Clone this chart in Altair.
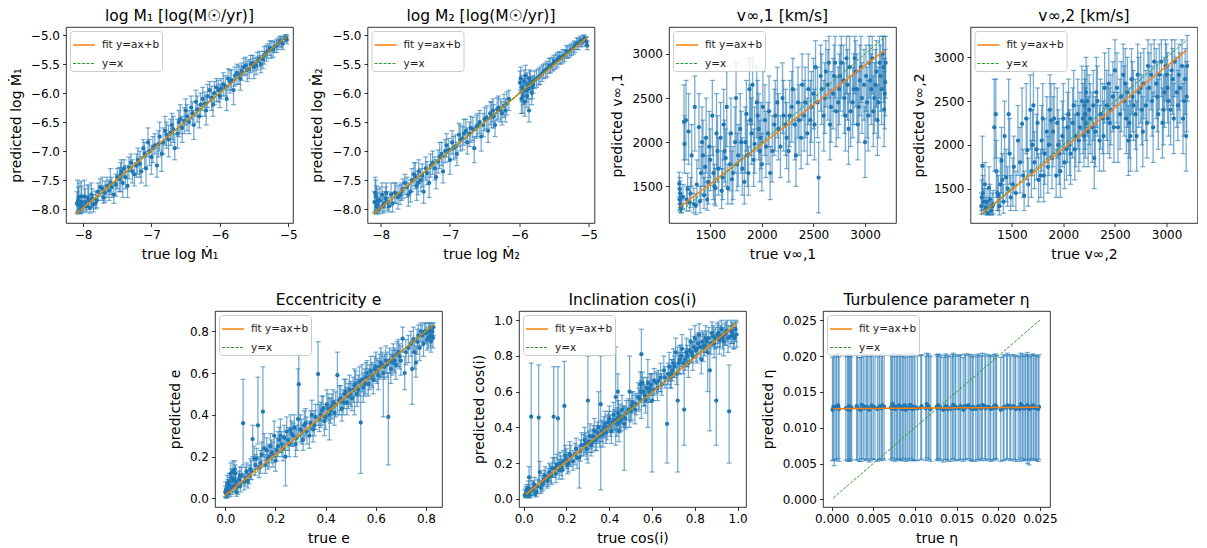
import altair as alt
import pandas as pd

BLUE = "#1f77b4"
ORANGE = "#ff7f0e"
GREEN = "#2ca02c"
FONT = "DejaVu Sans"
FIT = "fit y=ax+b"
IDENT = "y=x"

# ---------------- data: (true, predicted, lower, upper) ----------------
m1_points = [
    (-8.08, -7.92, -8.05, -7.50), (-8.06, -7.80, -8.02, -7.55), (-8.04, -8.00, -8.08, -7.85),
    (-8.02, -7.88, -8.05, -7.60), (-7.98, -7.78, -7.95, -7.50), (-7.95, -7.95, -8.05, -7.80),
    (-7.92, -7.85, -8.00, -7.60), (-7.88, -7.75, -7.95, -7.55), (-7.85, -7.92, -8.05, -7.75),
    (-7.82, -7.90, -8.00, -7.70), (-7.78, -7.70, -7.85, -7.55), (-7.72, -7.65, -7.85, -7.45),
    (-7.70, -7.80, -7.90, -7.60), (-7.65, -7.60, -7.80, -7.45), (-7.60, -7.55, -7.75, -7.30),
    (-7.55, -7.75, -7.90, -7.55), (-7.50, -7.45, -7.65, -7.30), (-7.45, -7.40, -7.70, -7.20),
    (-7.42, -7.55, -7.80, -7.30), (-7.40, -7.30, -7.45, -7.15), (-7.35, -7.60, -7.80, -7.35),
    (-7.30, -7.20, -7.35, -7.05), (-7.25, -7.40, -7.60, -7.20), (-7.20, -7.15, -7.40, -6.95),
    (-7.15, -7.35, -7.55, -7.10), (-7.12, -6.95, -7.10, -6.80), (-7.08, -7.30, -7.60, -7.00),
    (-7.05, -6.85, -7.10, -6.60), (-7.00, -7.10, -7.40, -6.90), (-6.95, -6.90, -7.05, -6.70),
    (-6.92, -7.25, -7.45, -6.95), (-6.88, -6.75, -7.00, -6.50), (-6.85, -7.05, -7.35, -6.85),
    (-6.80, -6.65, -6.90, -6.40), (-6.75, -6.80, -7.10, -6.55), (-6.70, -6.55, -6.80, -6.35),
    (-6.66, -6.95, -7.15, -6.70), (-6.62, -6.70, -6.95, -6.45), (-6.58, -6.45, -6.70, -6.20),
    (-6.55, -6.60, -6.85, -6.40), (-6.50, -6.30, -6.55, -6.10), (-6.45, -6.50, -6.70, -6.30),
    (-6.42, -6.25, -6.45, -6.05), (-6.38, -6.55, -6.80, -6.30), (-6.35, -6.15, -6.40, -5.95),
    (-6.30, -6.40, -6.60, -6.20), (-6.25, -6.10, -6.30, -5.90), (-6.20, -6.30, -6.55, -6.05),
    (-6.15, -5.95, -6.15, -5.80), (-6.10, -6.20, -6.40, -6.00), (-6.05, -5.90, -6.15, -5.75),
    (-6.00, -6.05, -6.25, -5.85), (-5.95, -5.85, -6.05, -5.65), (-5.90, -6.10, -6.30, -5.90),
    (-5.85, -5.80, -6.00, -5.60), (-5.80, -5.95, -6.20, -5.75), (-5.75, -5.65, -5.85, -5.50),
    (-5.70, -5.75, -5.95, -5.55), (-5.65, -5.55, -5.70, -5.40), (-5.60, -5.60, -5.80, -5.45),
    (-5.55, -5.50, -5.65, -5.35), (-5.50, -5.55, -5.75, -5.40), (-5.45, -5.45, -5.60, -5.30),
    (-5.40, -5.50, -5.65, -5.35), (-5.35, -5.35, -5.50, -5.20), (-5.30, -5.28, -5.40, -5.15),
    (-5.25, -5.25, -5.40, -5.10), (-5.20, -5.20, -5.30, -5.10), (-5.15, -5.15, -5.25, -5.05),
    (-5.10, -5.12, -5.22, -5.02), (-5.05, -5.05, -5.12, -5.00), (-5.02, -5.08, -5.15, -5.02),
]
m1_more = [
    (-8.09, -7.90, -8.07, -7.70), (-8.07, -7.85, -8.03, -7.62), (-8.05, -7.93, -8.08, -7.78),
    (-8.03, -7.78, -7.98, -7.52), (-8.00, -7.95, -8.06, -7.80), (-7.97, -7.88, -8.02, -7.65),
    (-7.93, -7.80, -7.97, -7.58), (-7.90, -7.98, -8.07, -7.85), (-7.87, -7.82, -7.98, -7.65),
    (-7.80, -7.85, -7.98, -7.68), (-7.75, -7.62, -7.78, -7.48), (-7.68, -7.72, -7.88, -7.52),
    (-7.62, -7.68, -7.85, -7.50), (-7.58, -7.62, -7.80, -7.45), (-7.52, -7.58, -7.78, -7.40),
    (-7.47, -7.48, -7.70, -7.28), (-7.44, -7.35, -7.55, -7.15), (-7.38, -7.45, -7.65, -7.25),
    (-7.33, -7.28, -7.48, -7.10), (-7.28, -7.35, -7.55, -7.15), (-7.22, -7.25, -7.45, -7.05),
    (-7.17, -7.22, -7.45, -7.00), (-7.10, -7.05, -7.30, -6.85), (-7.03, -7.00, -7.25, -6.80),
    (-6.98, -6.95, -7.20, -6.75), (-6.90, -6.88, -7.10, -6.65), (-6.83, -6.85, -7.05, -6.60),
    (-6.78, -6.72, -6.95, -6.50), (-6.72, -6.68, -6.90, -6.45), (-6.68, -6.62, -6.85, -6.40),
    (-6.60, -6.50, -6.75, -6.30), (-6.52, -6.48, -6.70, -6.25), (-6.48, -6.40, -6.65, -6.20),
    (-6.40, -6.35, -6.55, -6.15), (-6.33, -6.28, -6.50, -6.05), (-6.28, -6.20, -6.40, -6.00),
    (-6.22, -6.18, -6.40, -5.98), (-6.18, -6.05, -6.25, -5.85), (-6.12, -6.08, -6.30, -5.88),
    (-6.08, -6.00, -6.20, -5.80), (-6.02, -5.95, -6.15, -5.78), (-5.98, -5.92, -6.10, -5.75),
    (-5.92, -5.88, -6.05, -5.70), (-5.88, -5.75, -5.95, -5.58), (-5.83, -5.78, -5.95, -5.60),
    (-5.78, -5.70, -5.88, -5.55), (-5.72, -5.68, -5.85, -5.52), (-5.68, -5.62, -5.78, -5.48),
    (-5.62, -5.52, -5.68, -5.38), (-5.57, -5.58, -5.75, -5.42), (-5.52, -5.48, -5.62, -5.35),
    (-5.47, -5.52, -5.68, -5.38), (-5.42, -5.40, -5.55, -5.28), (-5.37, -5.42, -5.58, -5.28),
    (-5.32, -5.30, -5.45, -5.18), (-5.27, -5.22, -5.35, -5.10), (-5.22, -5.25, -5.38, -5.12),
    (-5.17, -5.18, -5.30, -5.08), (-5.12, -5.10, -5.20, -5.02), (-5.08, -5.15, -5.25, -5.05),
    (-5.03, -5.04, -5.10, -4.99),
]
m1_fit = ([-8.10, -5.02], [-8.08, -5.02])
m1_ident = ([-8.10, -5.02], [-8.10, -5.02])

m2_points = [
    (-8.08, -7.72, -8.05, -7.45), (-8.06, -7.95, -8.08, -7.60), (-8.04, -7.85, -8.05, -7.65),
    (-8.02, -8.00, -8.08, -7.80), (-7.98, -7.75, -7.95, -7.55), (-7.95, -7.90, -8.05, -7.70),
    (-7.92, -7.72, -7.90, -7.55), (-7.88, -7.95, -8.05, -7.80), (-7.85, -7.75, -7.95, -7.55),
    (-7.80, -7.72, -7.90, -7.55), (-7.75, -7.80, -8.00, -7.60), (-7.70, -7.70, -7.85, -7.55),
    (-7.65, -7.55, -7.75, -7.40), (-7.60, -7.75, -7.95, -7.55), (-7.55, -7.50, -7.70, -7.30),
    (-7.50, -7.45, -7.65, -7.20), (-7.48, -7.60, -7.85, -7.40), (-7.45, -7.35, -7.55, -7.15),
    (-7.42, -7.50, -7.70, -7.30), (-7.38, -7.70, -7.90, -7.45), (-7.35, -7.30, -7.50, -7.10),
    (-7.30, -7.55, -7.80, -7.30), (-7.25, -7.20, -7.40, -7.00), (-7.20, -7.45, -7.65, -7.15),
    (-7.15, -7.10, -7.30, -6.85), (-7.10, -7.35, -7.55, -7.10), (-7.05, -6.90, -7.10, -6.70),
    (-7.00, -7.15, -7.40, -6.95), (-6.95, -6.95, -7.15, -6.75), (-6.90, -7.05, -7.25, -6.85),
    (-6.85, -6.80, -7.00, -6.55), (-6.80, -6.70, -6.90, -6.45), (-6.75, -6.85, -7.05, -6.60),
    (-6.70, -6.60, -6.85, -6.40), (-6.65, -6.95, -7.20, -6.75), (-6.60, -6.55, -6.75, -6.35),
    (-6.55, -6.75, -7.00, -6.55), (-6.50, -6.45, -6.65, -6.25), (-6.45, -6.65, -6.85, -6.45),
    (-6.40, -6.40, -6.60, -6.15), (-6.38, -6.30, -6.50, -6.10), (-6.35, -6.55, -6.75, -6.35),
    (-6.30, -6.25, -6.45, -6.05), (-6.25, -6.35, -6.55, -6.15), (-6.20, -6.30, -6.50, -6.10),
    (-6.15, -6.10, -6.30, -5.95), (-5.98, -5.75, -5.95, -5.55), (-5.96, -5.90, -6.15, -5.70),
    (-5.95, -6.05, -6.35, -5.85), (-5.93, -5.80, -6.00, -5.60), (-5.92, -6.15, -6.40, -5.95),
    (-5.90, -5.95, -6.15, -5.75), (-5.88, -5.85, -6.05, -5.65), (-5.86, -6.30, -6.50, -6.10),
    (-5.85, -5.75, -5.95, -5.60), (-5.82, -6.00, -6.20, -5.80), (-5.80, -5.85, -6.00, -5.70),
    (-5.75, -5.75, -5.90, -5.60), (-5.70, -5.70, -5.85, -5.55), (-5.65, -5.62, -5.75, -5.50),
    (-5.60, -5.58, -5.72, -5.45), (-5.55, -5.55, -5.65, -5.40), (-5.50, -5.45, -5.60, -5.35),
    (-5.45, -5.42, -5.55, -5.30), (-5.40, -5.40, -5.50, -5.30), (-5.35, -5.35, -5.45, -5.25),
    (-5.30, -5.30, -5.40, -5.20), (-5.25, -5.25, -5.35, -5.15), (-5.20, -5.18, -5.30, -5.10),
    (-5.15, -5.15, -5.25, -5.05), (-5.10, -5.12, -5.20, -5.05), (-5.06, -5.05, -5.12, -5.00),
    (-5.04, -5.10, -5.18, -5.03), (-5.02, -5.18, -5.25, -5.10),
]
m2_more = [
    (-8.09, -7.88, -8.07, -7.70), (-8.07, -7.78, -8.02, -7.50), (-8.05, -7.92, -8.08, -7.72),
    (-8.01, -7.85, -8.03, -7.62), (-7.97, -7.95, -8.07, -7.78), (-7.93, -7.82, -7.98, -7.62),
    (-7.90, -7.88, -8.02, -7.70), (-7.83, -7.90, -8.05, -7.72), (-7.78, -7.73, -7.90, -7.55),
    (-7.72, -7.76, -7.92, -7.58), (-7.68, -7.65, -7.82, -7.48), (-7.62, -7.62, -7.80, -7.45),
    (-7.57, -7.70, -7.88, -7.50), (-7.52, -7.40, -7.60, -7.20), (-7.46, -7.55, -7.75, -7.35),
    (-7.40, -7.42, -7.62, -7.22), (-7.33, -7.38, -7.58, -7.18), (-7.28, -7.25, -7.45, -7.05),
    (-7.22, -7.30, -7.50, -7.10), (-7.17, -7.18, -7.38, -6.98), (-7.12, -7.05, -7.25, -6.85),
    (-7.07, -7.00, -7.20, -6.80), (-7.02, -6.98, -7.18, -6.78), (-6.97, -6.85, -7.05, -6.65),
    (-6.92, -6.92, -7.12, -6.72), (-6.87, -6.72, -6.92, -6.52), (-6.82, -6.78, -6.98, -6.58),
    (-6.77, -6.65, -6.85, -6.45), (-6.72, -6.70, -6.92, -6.50), (-6.67, -6.62, -6.82, -6.42),
    (-6.62, -6.58, -6.78, -6.38), (-6.57, -6.50, -6.70, -6.30), (-6.52, -6.55, -6.75, -6.35),
    (-6.47, -6.42, -6.62, -6.22), (-6.42, -6.35, -6.55, -6.15), (-6.37, -6.40, -6.60, -6.20),
    (-6.32, -6.28, -6.48, -6.08), (-6.27, -6.30, -6.50, -6.10), (-6.22, -6.22, -6.42, -6.02),
    (-6.18, -6.18, -6.38, -5.98), (-5.99, -5.82, -6.00, -5.62), (-5.97, -6.10, -6.35, -5.90),
    (-5.94, -5.95, -6.20, -5.75), (-5.91, -5.70, -5.88, -5.52), (-5.89, -6.05, -6.25, -5.85),
    (-5.87, -5.92, -6.10, -5.72), (-5.84, -5.80, -5.98, -5.62), (-5.81, -5.90, -6.10, -5.72),
    (-5.78, -5.78, -5.92, -5.62), (-5.72, -5.72, -5.86, -5.58), (-5.67, -5.66, -5.80, -5.52),
    (-5.62, -5.60, -5.74, -5.48), (-5.57, -5.52, -5.66, -5.40), (-5.52, -5.50, -5.62, -5.38),
    (-5.47, -5.45, -5.58, -5.33), (-5.42, -5.38, -5.50, -5.28), (-5.37, -5.36, -5.48, -5.25),
    (-5.32, -5.28, -5.40, -5.18), (-5.27, -5.27, -5.38, -5.17), (-5.22, -5.22, -5.33, -5.12),
    (-5.17, -5.14, -5.25, -5.05), (-5.12, -5.10, -5.20, -5.02), (-5.08, -5.08, -5.16, -5.00),
    (-5.03, -5.12, -5.20, -5.04),
]
m2_fit = ([-8.10, -5.03], [-8.08, -5.05])
m2_ident = ([-8.10, -5.03], [-8.10, -5.03])

v1_points = [
    (1200, 1530, 1380, 1660), (1205, 1470, 1300, 1600), (1210, 1300, 1220, 1420), (1215, 1250, 1200, 1350),
    (1250, 1980, 1650, 2300), (1265, 2250, 1800, 2700), (1280, 1470, 1300, 1650), (1290, 2120, 1750, 2550),
    (1300, 1320, 1220, 1500), (1340, 1300, 1200, 1480), (1350, 2400, 1900, 2750), (1360, 1280, 1180, 1420),
    (1390, 2170, 1700, 2550), (1410, 1650, 1350, 1950), (1430, 1850, 1500, 2250), (1440, 1400, 1250, 1600),
    (1460, 2050, 1650, 2500), (1480, 1550, 1300, 1850), (1500, 1800, 1450, 2150), (1520, 2300, 1850, 2700),
    (1540, 1500, 1300, 1750), (1560, 2100, 1700, 2550), (1580, 1700, 1400, 2050), (1610, 1450, 1250, 1700),
    (1630, 2200, 1800, 2600), (1650, 1820, 1500, 2150), (1670, 1480, 1300, 1750), (1700, 2100, 1750, 2500),
    (1720, 1650, 1350, 1950), (1750, 2500, 2000, 2900), (1760, 1750, 1450, 2100), (1800, 2000, 1650, 2350),
    (1830, 1550, 1300, 1850), (1850, 2320, 1900, 2700), (1870, 1650, 1400, 1950), (1890, 2250, 1850, 2650),
    (1910, 2650, 2200, 2950), (1930, 1980, 1650, 2400), (1960, 2300, 1900, 2700), (1980, 1900, 1550, 2250),
    (2000, 1750, 1450, 2100), (2030, 2250, 1850, 2650), (2060, 2100, 1750, 2450), (2080, 1650, 1350, 1950),
    (2120, 2200, 1850, 2600), (2150, 2450, 2050, 2850), (2180, 1950, 1600, 2300), (2210, 2300, 1900, 2700),
    (2240, 2050, 1700, 2450), (2270, 2300, 1950, 2700), (2300, 2600, 2200, 2950), (2330, 1850, 1500, 2250),
    (2360, 2250, 1850, 2650), (2390, 2650, 2250, 3000), (2420, 2450, 2050, 2850), (2440, 2100, 1750, 2500),
    (2470, 2250, 1850, 2700), (2500, 2550, 2150, 2950), (2520, 2850, 2450, 3150), (2550, 1600, 1200, 2000),
    (2570, 2750, 2350, 3100), (2600, 2300, 1900, 2700), (2620, 2800, 2400, 3150), (2650, 2900, 2500, 3200),
    (2670, 2400, 2000, 2800), (2700, 2750, 2350, 3100), (2720, 2350, 1950, 2750), (2750, 2600, 2200, 3000),
    (2770, 2900, 2500, 3200), (2800, 2500, 2100, 2900), (2820, 2950, 2550, 3200), (2840, 2150, 1750, 2550),
    (2860, 2350, 1950, 2750), (2890, 2600, 2200, 3000), (2910, 2800, 2400, 3150), (2930, 2200, 1800, 2600),
    (2950, 2700, 2300, 3100), (2970, 2500, 2100, 2900), (3000, 2000, 1600, 2400), (3020, 2450, 2050, 2850),
    (3040, 2900, 2500, 3200), (3060, 2600, 2200, 3000), (3080, 2350, 1950, 2750), (3100, 2650, 2250, 3050),
    (3120, 2250, 1850, 2650), (3140, 2900, 2500, 3200), (3160, 2600, 2200, 3000), (3170, 3000, 2600, 3200),
    (3185, 2370, 1950, 2800), (3195, 2680, 2300, 3050), (3200, 2900, 2500, 3200),
]
v1_more = [
    (1202, 1350, 1230, 1480), (1208, 1420, 1260, 1560), (1220, 1280, 1200, 1380), (1235, 1380, 1240, 1520),
    (1245, 2230, 1800, 2650), (1270, 1350, 1220, 1500), (1310, 1420, 1260, 1600), (1320, 1850, 1500, 2200),
    (1370, 1520, 1300, 1800), (1400, 1330, 1200, 1500), (1420, 2000, 1650, 2400), (1450, 1720, 1400, 2050),
    (1470, 1350, 1230, 1550), (1490, 1950, 1600, 2350), (1530, 1650, 1350, 1950), (1550, 1480, 1280, 1700),
    (1570, 1900, 1550, 2300), (1600, 2050, 1700, 2450), (1620, 1600, 1350, 1900), (1640, 1900, 1550, 2250),
    (1660, 2400, 1950, 2800), (1690, 1750, 1450, 2100), (1710, 1580, 1300, 1900), (1740, 2000, 1650, 2400),
    (1770, 1850, 1500, 2200), (1790, 2150, 1800, 2550), (1810, 1700, 1400, 2050), (1840, 2000, 1650, 2400),
    (1860, 1850, 1500, 2250), (1880, 2600, 2200, 2950), (1900, 2100, 1750, 2500), (1920, 1800, 1500, 2150),
    (1950, 2450, 2050, 2850), (1970, 2150, 1800, 2550), (1990, 2050, 1700, 2450), (2010, 2400, 2000, 2800),
    (2040, 1950, 1600, 2350), (2070, 2350, 1950, 2750), (2100, 1900, 1550, 2300), (2130, 2300, 1900, 2700),
    (2160, 2150, 1800, 2550), (2200, 2500, 2100, 2900), (2230, 2200, 1850, 2600), (2260, 1900, 1550, 2300),
    (2290, 2400, 2000, 2800), (2320, 2200, 1800, 2600), (2350, 2450, 2050, 2850), (2380, 2050, 1700, 2450),
    (2410, 2300, 1900, 2700), (2450, 2600, 2200, 3000), (2480, 2400, 2000, 2800), (2510, 2200, 1800, 2600),
    (2540, 2450, 2050, 2850), (2580, 2600, 2200, 3000), (2610, 2500, 2100, 2900), (2640, 2650, 2250, 3050),
    (2660, 2200, 1800, 2600), (2690, 2550, 2150, 2950), (2710, 2900, 2500, 3200), (2740, 2450, 2050, 2850),
    (2760, 2750, 2350, 3100), (2790, 2700, 2300, 3100), (2810, 2300, 1900, 2700), (2830, 2650, 2250, 3050),
    (2850, 2850, 2450, 3200), (2880, 2450, 2050, 2850), (2900, 2950, 2550, 3200), (2920, 2600, 2200, 3000),
    (2940, 2400, 2000, 2800), (2960, 2850, 2450, 3200), (2990, 2650, 2250, 3050), (3010, 2750, 2350, 3100),
    (3030, 2300, 1900, 2700), (3050, 2700, 2300, 3100), (3070, 2950, 2550, 3200), (3090, 2500, 2100, 2900),
    (3110, 2800, 2400, 3150), (3130, 2450, 2050, 2850), (3150, 2750, 2350, 3100), (3180, 2850, 2450, 3200),
    (3190, 2550, 2150, 2950),
]
v1_fit = ([1210, 3190], [1270, 3040])
v1_ident = ([1200, 3200], [1200, 3200])

v2_points = [
    (1210, 1400, 1250, 1600), (1215, 1760, 1300, 2100), (1230, 1350, 1220, 1500), (1250, 1280, 1200, 1400),
    (1280, 1510, 1300, 1750), (1300, 1250, 1200, 1350), (1310, 1300, 1200, 1450), (1330, 2200, 1700, 2750),
    (1345, 2350, 1850, 2750), (1360, 1450, 1250, 1700), (1380, 1300, 1200, 1450), (1400, 1820, 1450, 2200),
    (1410, 1600, 1350, 1900), (1430, 2100, 1650, 2500), (1445, 1630, 1350, 1950), (1470, 2350, 1900, 2750),
    (1490, 1400, 1250, 1650), (1520, 1750, 1450, 2100), (1560, 2050, 1650, 2450), (1600, 2240, 1800, 2650),
    (1620, 1420, 1250, 1700), (1650, 1940, 1600, 2300), (1680, 2400, 1950, 2800), (1700, 2000, 1650, 2400),
    (1720, 1800, 1500, 2150), (1750, 2250, 1850, 2650), (1780, 1650, 1400, 1950), (1800, 2300, 1900, 2700),
    (1820, 1900, 1550, 2300), (1850, 1750, 1450, 2100), (1870, 2400, 2000, 2800), (1880, 2280, 1850, 2700),
    (1900, 2150, 1750, 2550), (1930, 1650, 1400, 1950), (1950, 2000, 1650, 2400), (1970, 1700, 1400, 2050),
    (2000, 2300, 1900, 2700), (2030, 1950, 1600, 2350), (2050, 2350, 1950, 2750), (2070, 1900, 1550, 2300),
    (2100, 2450, 2050, 2850), (2120, 2100, 1750, 2500), (2150, 2050, 1700, 2450), (2180, 2500, 2100, 2900),
    (2200, 2100, 1750, 2500), (2210, 2350, 1950, 2750), (2220, 2600, 2200, 3000), (2250, 2400, 2000, 2800),
    (2280, 2200, 1800, 2600), (2300, 1850, 1500, 2250), (2320, 2600, 2200, 3000), (2350, 2050, 1700, 2450),
    (2380, 2300, 1900, 2700), (2400, 2650, 2250, 3050), (2430, 2300, 1900, 2700), (2450, 2250, 1850, 2650),
    (2480, 2550, 2150, 2950), (2500, 2850, 2450, 3200), (2530, 2200, 1800, 2600), (2560, 2550, 2150, 2950),
    (2600, 2700, 2300, 3100), (2610, 2300, 1900, 2700), (2630, 2050, 1650, 2450), (2650, 2100, 1700, 2500),
    (2670, 2550, 2150, 2950), (2700, 2350, 1950, 2750), (2720, 2800, 2400, 3150), (2750, 2650, 2250, 3050),
    (2770, 2150, 1750, 2550), (2800, 2450, 2050, 2850), (2820, 2900, 2500, 3200), (2850, 2800, 2400, 3150),
    (2870, 2200, 1800, 2600), (2900, 2700, 2300, 3100), (2920, 2350, 1950, 2750), (2950, 2950, 2550, 3200),
    (2960, 2250, 1850, 2650), (2980, 2600, 2200, 3000), (3000, 2800, 2400, 3150), (3020, 2500, 2100, 2900),
    (3050, 2850, 2450, 3200), (3070, 2300, 1900, 2700), (3100, 2600, 2200, 3000), (3120, 2800, 2400, 3150),
    (3150, 2900, 2500, 3200), (3170, 2500, 2100, 2900), (3190, 2100, 1700, 2500), (3200, 2900, 2500, 3250),
]
v2_more = [
    (1205, 1300, 1210, 1450), (1220, 1450, 1260, 1650), (1240, 1550, 1300, 1800), (1260, 1350, 1220, 1500),
    (1270, 1220, 1200, 1320), (1290, 1380, 1230, 1550), (1320, 1320, 1210, 1480), (1350, 1700, 1400, 2050),
    (1370, 1420, 1250, 1650), (1390, 1550, 1300, 1850), (1420, 1350, 1220, 1550), (1460, 1500, 1300, 1750),
    (1480, 1900, 1550, 2300), (1510, 1550, 1300, 1850), (1540, 1450, 1250, 1700), (1580, 1800, 1450, 2200),
    (1610, 1650, 1400, 1950), (1640, 2300, 1900, 2700), (1660, 1550, 1300, 1850), (1690, 1700, 1400, 2050),
    (1710, 2450, 2050, 2850), (1740, 1950, 1600, 2350), (1760, 1600, 1350, 1900), (1790, 2050, 1700, 2450),
    (1810, 1650, 1350, 1950), (1840, 2150, 1800, 2550), (1860, 2000, 1650, 2400), (1890, 1850, 1500, 2250),
    (1910, 2300, 1900, 2700), (1940, 2250, 1850, 2650), (1960, 1900, 1550, 2300), (1990, 2100, 1750, 2500),
    (2010, 1800, 1500, 2200), (2040, 2200, 1800, 2600), (2060, 2000, 1650, 2400), (2090, 2250, 1850, 2650),
    (2110, 1950, 1600, 2350), (2140, 2350, 1950, 2750), (2160, 2200, 1800, 2600), (2190, 2300, 1900, 2700),
    (2205, 2450, 2050, 2850), (2215, 2250, 1850, 2650), (2230, 2500, 2100, 2900), (2240, 2150, 1750, 2550),
    (2260, 2300, 1900, 2700), (2290, 2450, 2050, 2850), (2310, 2150, 1750, 2550), (2330, 2500, 2100, 2900),
    (2360, 2350, 1950, 2750), (2390, 2100, 1700, 2500), (2420, 2450, 2050, 2850), (2440, 2700, 2300, 3100),
    (2460, 2400, 2000, 2800), (2490, 2200, 1800, 2600), (2520, 2650, 2250, 3050), (2550, 2350, 1950, 2750),
    (2580, 2800, 2400, 3150), (2590, 2500, 2100, 2900), (2620, 2600, 2200, 3000), (2640, 2250, 1850, 2650),
    (2660, 2750, 2350, 3100), (2680, 2450, 2050, 2850), (2710, 2100, 1700, 2500), (2730, 2600, 2200, 3000),
    (2760, 2400, 2000, 2800), (2780, 2700, 2300, 3100), (2810, 2250, 1850, 2650), (2830, 2650, 2250, 3050),
    (2860, 2500, 2100, 2900), (2880, 2950, 2550, 3200), (2910, 2550, 2150, 2950), (2930, 2800, 2400, 3150),
    (2970, 2400, 2000, 2800), (2990, 2900, 2500, 3200), (3010, 2650, 2250, 3050), (3040, 2400, 2000, 2800),
    (3060, 2750, 2350, 3100), (3080, 2950, 2550, 3200), (3110, 2450, 2050, 2850), (3130, 2650, 2250, 3050),
    (3160, 2300, 1900, 2700), (3180, 2750, 2350, 3100), (3195, 2550, 2150, 2950),
]
v2_fit = ([1205, 3195], [1210, 3080])
v2_ident = ([1200, 3200], [1200, 3200])

e_points = [
    (0.000, 0.030, 0.005, 0.060), (0.005, 0.020, 0.000, 0.050), (0.010, 0.050, 0.020, 0.090),
    (0.015, 0.080, 0.040, 0.120), (0.020, 0.040, 0.010, 0.070), (0.025, 0.100, 0.060, 0.140),
    (0.030, 0.130, 0.080, 0.180), (0.035, 0.060, 0.030, 0.100), (0.040, 0.120, 0.080, 0.160),
    (0.045, 0.030, 0.010, 0.070), (0.055, 0.090, 0.050, 0.130), (0.060, 0.060, 0.030, 0.100),
    (0.065, 0.110, 0.070, 0.150), (0.071, 0.360, 0.160, 0.570), (0.080, 0.100, 0.060, 0.150),
    (0.090, 0.080, 0.050, 0.120), (0.100, 0.140, 0.090, 0.190), (0.109, 0.284, 0.200, 0.350),
    (0.115, 0.190, 0.140, 0.250), (0.130, 0.350, 0.260, 0.580), (0.135, 0.150, 0.100, 0.200),
    (0.150, 0.415, 0.200, 0.630), (0.155, 0.240, 0.180, 0.310), (0.160, 0.160, 0.120, 0.210),
    (0.175, 0.200, 0.150, 0.260), (0.185, 0.220, 0.170, 0.280), (0.195, 0.300, 0.200, 0.370),
    (0.200, 0.180, 0.130, 0.240), (0.210, 0.250, 0.200, 0.320), (0.220, 0.300, 0.220, 0.380),
    (0.230, 0.240, 0.180, 0.300), (0.240, 0.200, 0.060, 0.300), (0.250, 0.280, 0.230, 0.340),
    (0.260, 0.330, 0.260, 0.400), (0.270, 0.300, 0.250, 0.360), (0.280, 0.260, 0.200, 0.330),
    (0.290, 0.380, 0.300, 0.620), (0.293, 0.547, 0.300, 0.690), (0.300, 0.330, 0.270, 0.400),
    (0.310, 0.280, 0.230, 0.350), (0.320, 0.360, 0.300, 0.430), (0.335, 0.300, 0.240, 0.370),
    (0.345, 0.400, 0.330, 0.470), (0.355, 0.350, 0.300, 0.420), (0.370, 0.595, 0.350, 0.750),
    (0.375, 0.380, 0.320, 0.450), (0.385, 0.420, 0.350, 0.490), (0.395, 0.370, 0.300, 0.440),
    (0.405, 0.450, 0.380, 0.520), (0.415, 0.400, 0.280, 0.480), (0.425, 0.440, 0.380, 0.500),
    (0.435, 0.410, 0.350, 0.470), (0.447, 0.590, 0.400, 0.700), (0.455, 0.470, 0.400, 0.540),
    (0.465, 0.430, 0.370, 0.500), (0.475, 0.500, 0.430, 0.570), (0.485, 0.460, 0.400, 0.530),
    (0.495, 0.520, 0.450, 0.590), (0.505, 0.480, 0.420, 0.550), (0.515, 0.540, 0.400, 0.620),
    (0.525, 0.500, 0.440, 0.570), (0.535, 0.560, 0.490, 0.630), (0.540, 0.363, 0.120, 0.550),
    (0.550, 0.530, 0.460, 0.600), (0.560, 0.580, 0.500, 0.650), (0.570, 0.550, 0.490, 0.620),
    (0.580, 0.610, 0.540, 0.680), (0.590, 0.570, 0.500, 0.640), (0.600, 0.630, 0.560, 0.700),
    (0.610, 0.590, 0.520, 0.660), (0.620, 0.650, 0.580, 0.720), (0.630, 0.600, 0.390, 0.680),
    (0.640, 0.660, 0.600, 0.730), (0.650, 0.390, 0.160, 0.600), (0.660, 0.620, 0.550, 0.690),
    (0.670, 0.680, 0.610, 0.740), (0.680, 0.640, 0.570, 0.710), (0.690, 0.700, 0.630, 0.760),
    (0.700, 0.660, 0.590, 0.730), (0.707, 0.765, 0.700, 0.820), (0.715, 0.600, 0.520, 0.680),
    (0.730, 0.720, 0.650, 0.780), (0.745, 0.620, 0.450, 0.750), (0.750, 0.760, 0.700, 0.820),
    (0.755, 0.700, 0.620, 0.770), (0.760, 0.650, 0.580, 0.730), (0.770, 0.780, 0.720, 0.830),
    (0.780, 0.800, 0.750, 0.840), (0.790, 0.740, 0.680, 0.800), (0.800, 0.790, 0.740, 0.840),
    (0.810, 0.770, 0.720, 0.820), (0.815, 0.810, 0.770, 0.840), (0.820, 0.750, 0.700, 0.800),
    (0.825, 0.800, 0.760, 0.840), (0.830, 0.820, 0.780, 0.840),
]
e_more = [
    (0.002, 0.040, 0.010, 0.080), (0.008, 0.070, 0.030, 0.110), (0.012, 0.030, 0.005, 0.060),
    (0.018, 0.060, 0.020, 0.100), (0.022, 0.120, 0.080, 0.170), (0.028, 0.050, 0.020, 0.090),
    (0.033, 0.090, 0.050, 0.130), (0.038, 0.140, 0.090, 0.180), (0.042, 0.080, 0.040, 0.120),
    (0.050, 0.060, 0.020, 0.100), (0.058, 0.110, 0.070, 0.150), (0.075, 0.080, 0.040, 0.120),
    (0.085, 0.130, 0.090, 0.170), (0.095, 0.110, 0.070, 0.160), (0.105, 0.130, 0.090, 0.180),
    (0.120, 0.160, 0.110, 0.210), (0.125, 0.190, 0.140, 0.240), (0.140, 0.170, 0.120, 0.230),
    (0.145, 0.210, 0.150, 0.270), (0.165, 0.230, 0.170, 0.290), (0.170, 0.190, 0.140, 0.250),
    (0.180, 0.250, 0.190, 0.310), (0.190, 0.210, 0.150, 0.270), (0.205, 0.230, 0.180, 0.290),
    (0.215, 0.280, 0.220, 0.340), (0.225, 0.260, 0.200, 0.320), (0.235, 0.290, 0.230, 0.350),
    (0.245, 0.320, 0.260, 0.390), (0.255, 0.260, 0.200, 0.320), (0.265, 0.310, 0.250, 0.370),
    (0.275, 0.340, 0.280, 0.400), (0.285, 0.290, 0.230, 0.350), (0.305, 0.320, 0.260, 0.380),
    (0.315, 0.350, 0.290, 0.420), (0.325, 0.320, 0.260, 0.390), (0.340, 0.360, 0.300, 0.420),
    (0.350, 0.330, 0.270, 0.390), (0.360, 0.390, 0.330, 0.450), (0.380, 0.400, 0.340, 0.460),
    (0.390, 0.430, 0.370, 0.490), (0.400, 0.390, 0.330, 0.450), (0.410, 0.430, 0.370, 0.500),
    (0.420, 0.420, 0.360, 0.480), (0.430, 0.460, 0.400, 0.520), (0.440, 0.450, 0.390, 0.510),
    (0.460, 0.480, 0.420, 0.540), (0.470, 0.460, 0.400, 0.520), (0.480, 0.510, 0.450, 0.570),
    (0.490, 0.490, 0.430, 0.550), (0.500, 0.500, 0.440, 0.560), (0.510, 0.520, 0.460, 0.580),
    (0.520, 0.550, 0.490, 0.610), (0.530, 0.520, 0.460, 0.590), (0.545, 0.570, 0.510, 0.640),
    (0.555, 0.550, 0.490, 0.620), (0.565, 0.600, 0.540, 0.660), (0.575, 0.580, 0.520, 0.640),
    (0.585, 0.590, 0.530, 0.650), (0.595, 0.620, 0.560, 0.680), (0.605, 0.610, 0.550, 0.670),
    (0.615, 0.630, 0.570, 0.690), (0.625, 0.640, 0.580, 0.700), (0.635, 0.630, 0.570, 0.690),
    (0.645, 0.640, 0.580, 0.700), (0.655, 0.660, 0.600, 0.720), (0.665, 0.650, 0.590, 0.710),
    (0.675, 0.660, 0.600, 0.720), (0.685, 0.690, 0.630, 0.750), (0.695, 0.680, 0.620, 0.740),
    (0.720, 0.700, 0.640, 0.760), (0.740, 0.740, 0.680, 0.800), (0.765, 0.750, 0.690, 0.810),
    (0.775, 0.720, 0.660, 0.780), (0.785, 0.780, 0.730, 0.830), (0.795, 0.800, 0.750, 0.840),
    (0.805, 0.760, 0.710, 0.810), (0.812, 0.800, 0.760, 0.840), (0.818, 0.780, 0.730, 0.830),
    (0.828, 0.770, 0.720, 0.820),
]
e_fit = ([0.0, 0.83], [0.015, 0.83])
e_ident = ([0.0, 0.83], [0.0, 0.83])

cosi_points = [
    (0.010, 0.030, 0.010, 0.060), (0.015, 0.050, 0.020, 0.080), (0.020, 0.020, 0.005, 0.050),
    (0.025, 0.120, 0.060, 0.180), (0.030, 0.040, 0.010, 0.080), (0.035, 0.460, 0.100, 0.760),
    (0.045, 0.060, 0.020, 0.100), (0.055, 0.030, 0.010, 0.070), (0.065, 0.070, 0.030, 0.110),
    (0.070, 0.455, 0.100, 0.750), (0.075, 0.150, 0.090, 0.210), (0.085, 0.080, 0.040, 0.130),
    (0.095, 0.110, 0.070, 0.160), (0.110, 0.100, 0.060, 0.150), (0.125, 0.140, 0.090, 0.190),
    (0.135, 0.170, 0.120, 0.230), (0.140, 0.460, 0.200, 0.740), (0.150, 0.140, 0.090, 0.200),
    (0.160, 0.450, 0.180, 0.740), (0.170, 0.200, 0.150, 0.260), (0.180, 0.160, 0.110, 0.220),
    (0.190, 0.520, 0.200, 0.770), (0.195, 0.240, 0.180, 0.300), (0.205, 0.190, 0.140, 0.250),
    (0.215, 0.250, 0.190, 0.320), (0.230, 0.210, 0.160, 0.270), (0.245, 0.280, 0.220, 0.340),
    (0.260, 0.230, 0.060, 0.300), (0.270, 0.300, 0.240, 0.370), (0.285, 0.330, 0.260, 0.400),
    (0.295, 0.280, 0.220, 0.350), (0.300, 0.550, 0.200, 0.800), (0.310, 0.350, 0.280, 0.420),
    (0.320, 0.320, 0.260, 0.390), (0.330, 0.380, 0.310, 0.450), (0.340, 0.340, 0.270, 0.410),
    (0.350, 0.400, 0.320, 0.600), (0.360, 0.530, 0.050, 0.800), (0.370, 0.360, 0.290, 0.430),
    (0.380, 0.420, 0.350, 0.490), (0.390, 0.400, 0.330, 0.470), (0.400, 0.450, 0.380, 0.520),
    (0.410, 0.380, 0.310, 0.450), (0.420, 0.470, 0.390, 0.540), (0.430, 0.570, 0.300, 0.850),
    (0.435, 0.420, 0.350, 0.490), (0.440, 0.600, 0.450, 0.700), (0.445, 0.380, 0.320, 0.450),
    (0.450, 0.460, 0.380, 0.530), (0.460, 0.500, 0.420, 0.580), (0.470, 0.420, 0.160, 0.520),
    (0.480, 0.480, 0.400, 0.550), (0.495, 0.600, 0.400, 0.800), (0.505, 0.520, 0.440, 0.600),
    (0.520, 0.500, 0.420, 0.580), (0.535, 0.570, 0.490, 0.650), (0.545, 0.640, 0.560, 0.710),
    (0.550, 0.810, 0.450, 0.950), (0.560, 0.600, 0.520, 0.680), (0.570, 0.550, 0.480, 0.630),
    (0.580, 0.650, 0.400, 0.780), (0.590, 0.620, 0.540, 0.700), (0.600, 0.550, 0.150, 0.700),
    (0.610, 0.660, 0.580, 0.730), (0.625, 0.620, 0.550, 0.700), (0.640, 0.680, 0.600, 0.760),
    (0.655, 0.720, 0.640, 0.800), (0.670, 0.420, 0.200, 0.700), (0.680, 0.740, 0.660, 0.820),
    (0.690, 0.700, 0.620, 0.780), (0.700, 0.760, 0.680, 0.840), (0.710, 0.820, 0.740, 0.900),
    (0.720, 0.550, 0.150, 0.850), (0.730, 0.780, 0.700, 0.860), (0.740, 0.840, 0.760, 0.920),
    (0.750, 0.500, 0.300, 0.800), (0.760, 0.820, 0.740, 0.900), (0.770, 0.760, 0.680, 0.840),
    (0.780, 0.880, 0.800, 0.950), (0.790, 0.800, 0.720, 0.880), (0.800, 0.900, 0.830, 0.970),
    (0.810, 0.840, 0.760, 0.920), (0.820, 0.920, 0.850, 0.980), (0.830, 0.780, 0.700, 0.880),
    (0.840, 0.850, 0.770, 0.930), (0.850, 0.900, 0.820, 0.970), (0.860, 0.820, 0.600, 0.900),
    (0.870, 0.720, 0.380, 0.880), (0.880, 0.930, 0.860, 0.990), (0.890, 0.870, 0.790, 0.950),
    (0.900, 0.550, 0.300, 0.850), (0.905, 0.920, 0.850, 0.980), (0.915, 0.890, 0.810, 0.960),
    (0.925, 0.950, 0.880, 1.000), (0.935, 0.880, 0.800, 0.950), (0.945, 0.930, 0.860, 0.990),
    (0.955, 0.900, 0.820, 0.970), (0.960, 0.490, 0.200, 0.750), (0.970, 0.940, 0.870, 1.000),
    (0.980, 0.910, 0.840, 0.980), (0.990, 0.950, 0.880, 1.000), (0.995, 0.920, 0.850, 0.990),
]
cosi_more = [
    (0.005, 0.020, 0.005, 0.050), (0.012, 0.040, 0.015, 0.070), (0.018, 0.030, 0.010, 0.060),
    (0.022, 0.060, 0.020, 0.100), (0.028, 0.020, 0.005, 0.050), (0.040, 0.050, 0.020, 0.090),
    (0.050, 0.080, 0.040, 0.120), (0.060, 0.040, 0.015, 0.080), (0.080, 0.060, 0.030, 0.100),
    (0.090, 0.090, 0.050, 0.140), (0.100, 0.130, 0.080, 0.180), (0.115, 0.120, 0.070, 0.170),
    (0.120, 0.150, 0.100, 0.200), (0.130, 0.130, 0.080, 0.180), (0.145, 0.170, 0.120, 0.230),
    (0.155, 0.190, 0.140, 0.250), (0.165, 0.160, 0.110, 0.220), (0.175, 0.180, 0.130, 0.240),
    (0.185, 0.210, 0.160, 0.270), (0.200, 0.220, 0.170, 0.280), (0.210, 0.200, 0.150, 0.260),
    (0.220, 0.240, 0.180, 0.300), (0.240, 0.250, 0.190, 0.310), (0.250, 0.230, 0.170, 0.290),
    (0.265, 0.270, 0.210, 0.330), (0.280, 0.300, 0.240, 0.360), (0.290, 0.310, 0.250, 0.370),
    (0.305, 0.320, 0.260, 0.380), (0.315, 0.300, 0.240, 0.360), (0.325, 0.350, 0.290, 0.410),
    (0.335, 0.330, 0.270, 0.390), (0.345, 0.370, 0.310, 0.430), (0.355, 0.350, 0.290, 0.410),
    (0.365, 0.380, 0.320, 0.440), (0.375, 0.400, 0.340, 0.460), (0.385, 0.370, 0.310, 0.430),
    (0.395, 0.430, 0.370, 0.490), (0.405, 0.410, 0.350, 0.470), (0.415, 0.430, 0.370, 0.490),
    (0.425, 0.440, 0.380, 0.500), (0.438, 0.450, 0.390, 0.510), (0.442, 0.480, 0.410, 0.550),
    (0.448, 0.430, 0.370, 0.490), (0.455, 0.440, 0.380, 0.500), (0.465, 0.460, 0.400, 0.520),
    (0.475, 0.450, 0.390, 0.510), (0.490, 0.500, 0.440, 0.560), (0.500, 0.490, 0.430, 0.550),
    (0.510, 0.540, 0.480, 0.600), (0.525, 0.530, 0.470, 0.590), (0.540, 0.560, 0.500, 0.620),
    (0.548, 0.600, 0.540, 0.660), (0.555, 0.650, 0.590, 0.710), (0.565, 0.580, 0.520, 0.640),
    (0.575, 0.620, 0.560, 0.680), (0.585, 0.600, 0.540, 0.660), (0.595, 0.640, 0.580, 0.700),
    (0.605, 0.610, 0.550, 0.670), (0.620, 0.650, 0.590, 0.710), (0.630, 0.660, 0.600, 0.720),
    (0.645, 0.640, 0.580, 0.700), (0.660, 0.680, 0.620, 0.740), (0.675, 0.700, 0.640, 0.760),
    (0.685, 0.680, 0.620, 0.740), (0.695, 0.720, 0.660, 0.780), (0.705, 0.740, 0.680, 0.800),
    (0.715, 0.700, 0.640, 0.760), (0.725, 0.760, 0.700, 0.820), (0.735, 0.800, 0.740, 0.860),
    (0.745, 0.760, 0.700, 0.820), (0.755, 0.780, 0.720, 0.840), (0.765, 0.800, 0.740, 0.860),
    (0.775, 0.830, 0.770, 0.890), (0.785, 0.820, 0.760, 0.880), (0.795, 0.850, 0.790, 0.910),
    (0.805, 0.830, 0.770, 0.890), (0.815, 0.870, 0.810, 0.930), (0.825, 0.850, 0.790, 0.910),
    (0.835, 0.880, 0.820, 0.940), (0.845, 0.860, 0.800, 0.920), (0.855, 0.880, 0.820, 0.940),
    (0.865, 0.900, 0.840, 0.960), (0.875, 0.870, 0.810, 0.930), (0.885, 0.910, 0.850, 0.970),
    (0.895, 0.900, 0.840, 0.960), (0.910, 0.930, 0.870, 0.990), (0.920, 0.910, 0.850, 0.970),
    (0.930, 0.900, 0.840, 0.960), (0.940, 0.920, 0.860, 0.980), (0.950, 0.940, 0.880, 1.000),
    (0.965, 0.910, 0.850, 0.970), (0.975, 0.930, 0.870, 0.990), (0.985, 0.900, 0.840, 0.960),
]
cosi_fit = ([0.01, 0.995], [0.025, 0.98])
cosi_ident = ([0.01, 1.0], [0.01, 1.0])

eta_points = [
    (0.0001, 0.0125, 0.0054, 0.0198), (0.0003, 0.0128, 0.0047, 0.0201), (0.0006, 0.0130, 0.0056, 0.0203),
    (0.0009, 0.0126, 0.0053, 0.0199), (0.0017, 0.0127, 0.0055, 0.0200), (0.0020, 0.0129, 0.0054, 0.0202),
    (0.0022, 0.0125, 0.0053, 0.0199), (0.0024, 0.0128, 0.0056, 0.0201), (0.0030, 0.0130, 0.0055, 0.0203),
    (0.0033, 0.0126, 0.0053, 0.0198), (0.0036, 0.0132, 0.0057, 0.0204), (0.0040, 0.0127, 0.0054, 0.0200),
    (0.0042, 0.0129, 0.0056, 0.0202), (0.0045, 0.0125, 0.0052, 0.0199), (0.0048, 0.0131, 0.0057, 0.0203),
    (0.0052, 0.0128, 0.0055, 0.0201), (0.0055, 0.0126, 0.0053, 0.0199), (0.0058, 0.0130, 0.0056, 0.0202),
    (0.0060, 0.0127, 0.0054, 0.0200), (0.0063, 0.0129, 0.0055, 0.0204), (0.0071, 0.0128, 0.0056, 0.0201),
    (0.0073, 0.0133, 0.0058, 0.0203), (0.0076, 0.0126, 0.0053, 0.0199), (0.0079, 0.0129, 0.0055, 0.0202),
    (0.0081, 0.0131, 0.0057, 0.0203), (0.0083, 0.0127, 0.0054, 0.0200), (0.0086, 0.0130, 0.0056, 0.0202),
    (0.0089, 0.0125, 0.0053, 0.0198), (0.0091, 0.0128, 0.0055, 0.0201), (0.0094, 0.0132, 0.0057, 0.0204),
    (0.0097, 0.0126, 0.0054, 0.0199), (0.0100, 0.0129, 0.0055, 0.0202), (0.0103, 0.0127, 0.0054, 0.0200),
    (0.0108, 0.0130, 0.0056, 0.0202), (0.0114, 0.0133, 0.0058, 0.0204), (0.0117, 0.0128, 0.0055, 0.0201),
    (0.0119, 0.0126, 0.0053, 0.0199), (0.0126, 0.0129, 0.0055, 0.0202), (0.0128, 0.0131, 0.0057, 0.0203),
    (0.0131, 0.0127, 0.0054, 0.0200), (0.0134, 0.0125, 0.0052, 0.0198), (0.0137, 0.0130, 0.0056, 0.0203),
    (0.0140, 0.0128, 0.0055, 0.0201), (0.0143, 0.0126, 0.0053, 0.0199), (0.0146, 0.0132, 0.0057, 0.0204),
    (0.0149, 0.0129, 0.0055, 0.0202), (0.0152, 0.0127, 0.0054, 0.0200), (0.0155, 0.0130, 0.0056, 0.0202),
    (0.0158, 0.0125, 0.0053, 0.0198), (0.0161, 0.0128, 0.0055, 0.0201), (0.0164, 0.0131, 0.0057, 0.0203),
    (0.0167, 0.0127, 0.0054, 0.0200), (0.0170, 0.0129, 0.0055, 0.0202), (0.0173, 0.0126, 0.0053, 0.0199),
    (0.0176, 0.0130, 0.0056, 0.0203), (0.0178, 0.0128, 0.0055, 0.0201), (0.0181, 0.0132, 0.0057, 0.0204),
    (0.0185, 0.0127, 0.0054, 0.0200), (0.0188, 0.0129, 0.0056, 0.0202), (0.0191, 0.0126, 0.0053, 0.0199),
    (0.0195, 0.0130, 0.0056, 0.0202), (0.0198, 0.0128, 0.0055, 0.0201), (0.0203, 0.0125, 0.0053, 0.0198),
    (0.0207, 0.0129, 0.0055, 0.0202), (0.0211, 0.0131, 0.0057, 0.0204), (0.0215, 0.0127, 0.0054, 0.0200),
    (0.0218, 0.0130, 0.0056, 0.0202), (0.0221, 0.0126, 0.0053, 0.0199), (0.0224, 0.0128, 0.0055, 0.0201),
    (0.0227, 0.0133, 0.0058, 0.0204), (0.0230, 0.0127, 0.0054, 0.0200), (0.0233, 0.0129, 0.0056, 0.0202),
    (0.0235, 0.0131, 0.0050, 0.0205), (0.0237, 0.0126, 0.0048, 0.0199), (0.0240, 0.0130, 0.0056, 0.0202),
    (0.0243, 0.0128, 0.0055, 0.0201), (0.0246, 0.0127, 0.0054, 0.0200), (0.0249, 0.0129, 0.0056, 0.0202),
]
eta_more = [
    (0.0002, 0.0129, 0.0055, 0.0201), (0.0005, 0.0127, 0.0054, 0.0200), (0.0008, 0.0131, 0.0057, 0.0203),
    (0.0019, 0.0126, 0.0053, 0.0199), (0.0021, 0.0130, 0.0056, 0.0202), (0.0023, 0.0127, 0.0054, 0.0200),
    (0.0031, 0.0128, 0.0055, 0.0201), (0.0035, 0.0125, 0.0053, 0.0198), (0.0038, 0.0130, 0.0056, 0.0203),
    (0.0043, 0.0128, 0.0055, 0.0201), (0.0047, 0.0127, 0.0054, 0.0200), (0.0050, 0.0129, 0.0056, 0.0202),
    (0.0057, 0.0128, 0.0055, 0.0201), (0.0061, 0.0131, 0.0057, 0.0204), (0.0072, 0.0127, 0.0054, 0.0200),
    (0.0075, 0.0130, 0.0056, 0.0202), (0.0078, 0.0127, 0.0055, 0.0200), (0.0082, 0.0129, 0.0055, 0.0202),
    (0.0085, 0.0126, 0.0054, 0.0199), (0.0088, 0.0131, 0.0057, 0.0203), (0.0093, 0.0127, 0.0054, 0.0200),
    (0.0096, 0.0130, 0.0056, 0.0202), (0.0099, 0.0127, 0.0054, 0.0201), (0.0107, 0.0128, 0.0055, 0.0201),
    (0.0113, 0.0127, 0.0054, 0.0200), (0.0116, 0.0130, 0.0056, 0.0203), (0.0127, 0.0127, 0.0054, 0.0200),
    (0.0130, 0.0129, 0.0056, 0.0202), (0.0136, 0.0128, 0.0055, 0.0201), (0.0139, 0.0126, 0.0053, 0.0199),
    (0.0145, 0.0129, 0.0056, 0.0202), (0.0148, 0.0127, 0.0054, 0.0200), (0.0154, 0.0128, 0.0055, 0.0201),
    (0.0160, 0.0130, 0.0056, 0.0203), (0.0166, 0.0129, 0.0055, 0.0202), (0.0169, 0.0126, 0.0053, 0.0199),
    (0.0175, 0.0128, 0.0055, 0.0201), (0.0180, 0.0127, 0.0054, 0.0200), (0.0184, 0.0130, 0.0056, 0.0203),
    (0.0190, 0.0128, 0.0055, 0.0201), (0.0194, 0.0127, 0.0054, 0.0200), (0.0197, 0.0131, 0.0057, 0.0203),
    (0.0206, 0.0127, 0.0054, 0.0200), (0.0210, 0.0128, 0.0055, 0.0201), (0.0214, 0.0130, 0.0056, 0.0202),
    (0.0220, 0.0128, 0.0055, 0.0201), (0.0226, 0.0126, 0.0053, 0.0199), (0.0229, 0.0130, 0.0056, 0.0203),
    (0.0232, 0.0127, 0.0054, 0.0200), (0.0236, 0.0129, 0.0056, 0.0202), (0.0239, 0.0127, 0.0054, 0.0200),
    (0.0242, 0.0131, 0.0057, 0.0203), (0.0245, 0.0128, 0.0055, 0.0201), (0.0248, 0.0126, 0.0053, 0.0199),
]
eta_fit = ([0.0002, 0.0249], [0.01265, 0.01285])
eta_ident = ([0.0002, 0.025], [0.0002, 0.025])

# ---------------- panel definitions ----------------
PANELS = [
    dict(points=m1_points + m1_more, fit=m1_fit, ident=m1_ident,
         title="log Ṁ₁ [log(M☉/yr)]", xt="true log Ṁ₁", yt="predicted log Ṁ₁",
         xdom=[-8.25, -4.93], ydom=[-8.24, -4.86],
         xticks=[-8, -7, -6, -5], yticks=[-8.0, -7.5, -7.0, -6.5, -6.0, -5.5, -5.0],
         xfmt="d", yfmt=".1f"),
    dict(points=m2_points + m2_more, fit=m2_fit, ident=m2_ident,
         title="log Ṁ₂ [log(M☉/yr)]", xt="true log Ṁ₂", yt="predicted log Ṁ₂",
         xdom=[-8.19, -4.915], ydom=[-8.24, -4.86],
         xticks=[-8, -7, -6, -5], yticks=[-8.0, -7.5, -7.0, -6.5, -6.0, -5.5, -5.0],
         xfmt="d", yfmt=".1f"),
    dict(points=v1_points + v1_more, fit=v1_fit, ident=v1_ident,
         title="v∞,1 [km/s]", xt="true v∞,1", yt="predicted v∞,1",
         xdom=[1100, 3300], ydom=[1085, 3305],
         xticks=[1500, 2000, 2500, 3000], yticks=[1500, 2000, 2500, 3000],
         xfmt="d", yfmt="d"),
    dict(points=v2_points + v2_more, fit=v2_fit, ident=v2_ident,
         title="v∞,2 [km/s]", xt="true v∞,2", yt="predicted v∞,2",
         xdom=[1100, 3300], ydom=[1108, 3346],
         xticks=[1500, 2000, 2500, 3000], yticks=[1500, 2000, 2500, 3000],
         xfmt="d", yfmt="d"),
    dict(points=e_points + e_more, fit=e_fit, ident=e_ident,
         title="Eccentricity e", xt="true e", yt="predicted e",
         xdom=[-0.041, 0.864], ydom=[-0.041, 0.897],
         xticks=[0.0, 0.2, 0.4, 0.6, 0.8], yticks=[0.0, 0.2, 0.4, 0.6, 0.8],
         xfmt=".1f", yfmt=".1f"),
    dict(points=cosi_points + cosi_more, fit=cosi_fit, ident=cosi_ident,
         title="Inclination cos(i)", xt="true cos(i)", yt="predicted cos(i)",
         xdom=[-0.022, 1.039], ydom=[-0.046, 1.052],
         xticks=[0.0, 0.2, 0.4, 0.6, 0.8, 1.0], yticks=[0.0, 0.2, 0.4, 0.6, 0.8, 1.0],
         xfmt=".1f", yfmt=".1f"),
    dict(points=eta_points + eta_more, fit=eta_fit, ident=eta_ident,
         title="Turbulence parameter η", xt="true η", yt="predicted η",
         xdom=[-0.00104, 0.02622], ydom=[-0.00107, 0.02629],
         xticks=[0.0, 0.005, 0.01, 0.015, 0.02, 0.025],
         yticks=[0.0, 0.005, 0.01, 0.015, 0.02, 0.025],
         xfmt=".3f", yfmt=".3f"),
]

W, H = 227, 196

# one legend (on colour); the dashed symbol for "y=x" is set per entry
LEGEND = alt.Legend(
    title=None, orient="top-left", offset=4, padding=2,
    strokeColor="#cccccc", fillColor="rgba(255,255,255,0.8)", cornerRadius=3,
    labelFont=FONT, labelFontSize=10.5, labelColor="#222222",
    symbolType="stroke", symbolSize=484, symbolStrokeWidth=1.5,
    symbolDash={"expr": "datum.value == 'y=x' ? [3.5, 2] : [1, 0]"},
    rowPadding=1, labelOffset=6,
)


def make_panel(p):
    df = pd.DataFrame(p["points"], columns=["x", "y", "lo", "hi"])
    xs = alt.Scale(domain=p["xdom"], nice=False, zero=False)
    ys = alt.Scale(domain=p["ydom"], nice=False, zero=False)
    xax = alt.Axis(values=p["xticks"], format=p["xfmt"], title=p["xt"])
    yax = alt.Axis(values=p["yticks"], format=p["yfmt"], title=p["yt"])

    def X(f):
        return alt.X(f, type="quantitative", scale=xs, axis=xax)

    def Y(f):
        return alt.Y(f, type="quantitative", scale=ys, axis=yax)

    base = alt.Chart(df)
    bars = base.mark_rule(color=BLUE, opacity=0.6, strokeWidth=1.3).encode(
        x=X("x"), y=Y("lo"), y2="hi")
    cap_lo = base.mark_tick(color=BLUE, opacity=0.6, orient="horizontal",
                            size=5, thickness=1.2).encode(x=X("x"), y=Y("lo"))
    cap_hi = base.mark_tick(color=BLUE, opacity=0.6, orient="horizontal",
                            size=5, thickness=1.2).encode(x=X("x"), y=Y("hi"))
    pts = base.mark_circle(color=BLUE, size=18, opacity=1).encode(x=X("x"), y=Y("y"))

    fx, fy = p["fit"]
    ix, iy = p["ident"]
    ldf = pd.DataFrame({
        "x": list(fx) + list(ix),
        "y": list(fy) + list(iy),
        "series": [FIT, FIT, IDENT, IDENT],
    })
    dom = [FIT, IDENT]
    lines = alt.Chart(ldf).mark_line().encode(
        x=X("x"), y=Y("y"),
        color=alt.Color("series:N", scale=alt.Scale(domain=dom, range=[ORANGE, GREEN]), legend=LEGEND),
        strokeDash=alt.StrokeDash("series:N", scale=alt.Scale(domain=dom, range=[[1, 0], [3, 1.5]]), legend=None),
        strokeWidth=alt.StrokeWidth("series:N", scale=alt.Scale(domain=dom, range=[1.5, 1.0]), legend=None),
    )
    return alt.layer(bars, cap_lo, cap_hi, pts, lines).properties(
        width=W, height=H,
        title=alt.TitleParams(text=p["title"], anchor="middle"),
    )


charts = [make_panel(p) for p in PANELS]

# invisible spacer that shifts the second row to the right
spacer = (
    alt.Chart(pd.DataFrame({"a": [0]}))
    .mark_point(opacity=0)
    .encode(x=alt.X("a:Q", axis=None), y=alt.Y("a:Q", axis=None))
    .properties(width=72, height=1, view=alt.ViewBackground(stroke="transparent"))
)

RES = dict(color="independent", strokeDash="independent", strokeWidth="independent")

top = alt.hconcat(*charts[:4], spacing=74.5, bounds="flush").resolve_scale(**RES)
bottom = alt.hconcat(spacer, *charts[4:], spacing=77, bounds="flush").resolve_scale(**RES)

chart = (
    alt.vconcat(top, bottom, spacing=30)
    .resolve_scale(**RES)
    .properties(padding={"left": 0, "top": 0, "right": 0, "bottom": 0})
    .configure_view(stroke="black", strokeWidth=0.8)
    .configure_axis(
        domain=False, grid=False, tickColor="black", tickSize=3.5, tickWidth=0.8,
        labelFont=FONT, labelFontSize=12, labelColor="black", labelPadding=3,
        labelFlush=False, labelOverlap=False,
        titleFont=FONT, titleFontSize=14, titleFontWeight="normal", titleColor="black",
        titlePadding=7,
    )
    .configure_title(font=FONT, fontSize=15.5, fontWeight="normal", color="black", offset=3)
)

chart.save("out.html", embed_options={"renderer": "svg", "actions": False})
